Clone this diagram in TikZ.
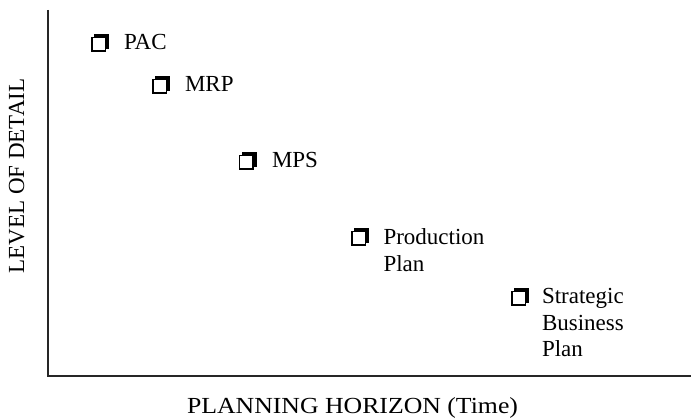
\documentclass[tikz,border=0pt]{standalone}
\usepackage{fontspec}
\setmainfont{Liberation Serif}
\usetikzlibrary{shadows}
\begin{document}
\begin{tikzpicture}[x=1pt,y=1pt,
  every node/.style={inner sep=0pt, outer sep=0pt},
  lbl/.style={font=\fontsize{23}{26.5}\selectfont, anchor=base west, align=left},
  axislbl/.style={font=\fontsize{23}{26.5}\selectfont},
  chk/.style={draw=black, line width=1.1pt, fill=white, minimum size=13.5pt, anchor=south west,
    copy shadow={shadow xshift=3pt, shadow yshift=3pt, fill=black, draw=black, line width=1.1pt}},
  axis/.style={line width=1.4pt, draw=black!85}]
\useasboundingbox (0,0) rectangle (691,420);

% axes
\coordinate (top) at (48,410);
\coordinate (origin) at (48,44);
\coordinate (right) at (691,44);
\draw[axis] (top) -- (origin) -- (right);

% axis titles
\node[axislbl, anchor=base west, xscale=1.12] (xlab) at (187,6) {PLANNING HORIZON (Time)};
\node[axislbl, rotate=90, anchor=base] (ylab) at (24,244) {LEVEL OF DETAIL};

% planning levels (multi-line labels are placed by their last baseline)
\node[chk] (pacbox) at (92,369) {};
\node[lbl] (pac) at (124,370) {PAC};

\node[chk] (mrpbox) at (153,327) {};
\node[lbl] (mrp) at (185,328) {MRP};

\node[chk] (mpsbox) at (239.5,251) {};
\node[lbl] (mps) at (272,252) {MPS};

\node[chk] (ppbox) at (352,175) {};
\node[lbl] (pp) at (383.5,148.5) {Production\\Plan};

\node[chk] (sbpbox) at (512,115) {};
\node[lbl] (sbp) at (542,63) {Strategic\\Business\\Plan};
\end{tikzpicture}
\end{document}
